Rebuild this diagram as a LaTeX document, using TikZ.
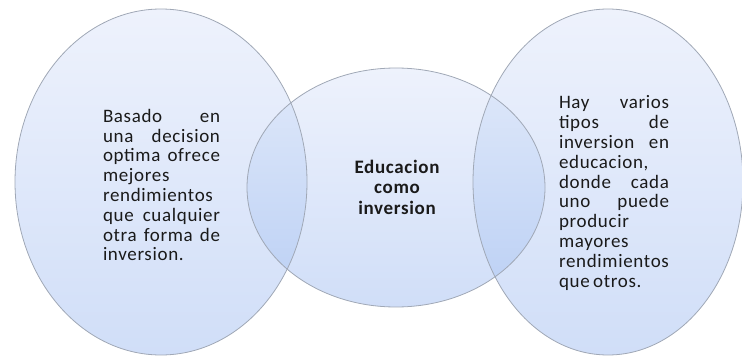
\documentclass[tikz,border=0pt]{standalone}
\usepackage{fontspec}
\setmainfont{Carlito}[LetterSpace=3.5]
\newcommand\jline[2]{\leavevmode\hbox to \linewidth{#1\hfill #2}\\}
\newcommand\jthree[3]{\leavevmode\hbox to \linewidth{#1\hfill #2\hfill #3}\\}
\newcommand\lline[1]{\leavevmode\hbox to \linewidth{#1\hfill}\\}
\newcommand\lastln[1]{\leavevmode\hbox to \linewidth{#1\hfill}}
\begin{document}
\begin{tikzpicture}[x=1pt,y=1pt]
\definecolor{topc}{HTML}{EEF2FC}
\definecolor{botc}{HTML}{D0DEF8}
\definecolor{otop}{HTML}{E0E9FA}
\definecolor{obot}{HTML}{BACFF4}
\definecolor{edge}{HTML}{A0A8B6}
\definecolor{ink}{HTML}{1A1A1A}
\tikzset{
  venn/.style={top color=topc,bottom color=botc,draw=none},
  ovl/.style={top color=otop,bottom color=obot,draw=none},
  rim/.style={draw=edge,line width=0.8pt},
  txt/.style={font=\fontsize{19}{19.8}\selectfont,text=ink,inner sep=0pt},
}
\useasboundingbox (0,0) rectangle (742,-361);
% fills
\path[venn] (161,-182) ellipse [x radius=146,y radius=173];
\path[venn] (608,-182) ellipse [x radius=135,y radius=173];
\path[venn] (396,-187.5) ellipse [x radius=149,y radius=119.5];
% overlaps
\begin{scope}
  \clip (161,-182) ellipse [x radius=146,y radius=173];
  \path[ovl] (396,-187.5) ellipse [x radius=149,y radius=119.5];
\end{scope}
\begin{scope}
  \clip (608,-182) ellipse [x radius=135,y radius=173];
  \path[ovl] (396,-187.5) ellipse [x radius=149,y radius=119.5];
\end{scope}
% outlines
\draw[rim] (161,-182) ellipse [x radius=146,y radius=173];
\draw[rim] (608,-182) ellipse [x radius=135,y radius=173];
\draw[rim] (396,-187.5) ellipse [x radius=149,y radius=119.5];
% texts
\node[txt,text width=117pt,align=left] (ltext) at (161.5,-185) {%
\jline{Basado}{en}\jline{una}{decision}\jline{optima}{ofrece}\lline{mejores}%
\lline{rendimientos}\jline{que}{cualquier}\jthree{otra}{forma}{de}%
\lastln{inversion.}};
\node[txt,font=\fontsize{19}{20.5}\selectfont\bfseries,align=center] (mtext) at (397,-187) {Educacion\\como\\inversion};
\node[txt,text width=110pt,align=left] (rtext) at (614,-193) {%
\jline{Hay}{varios}\jline{tipos}{de}\jline{inversion}{en}\lline{educacion,}%
\jline{donde}{cada}\jline{uno}{puede}\lline{producir}\lline{mayores}%
\lline{rendimientos}\lastln{que\kern3.5pt otros.}};
\end{tikzpicture}
\end{document}
